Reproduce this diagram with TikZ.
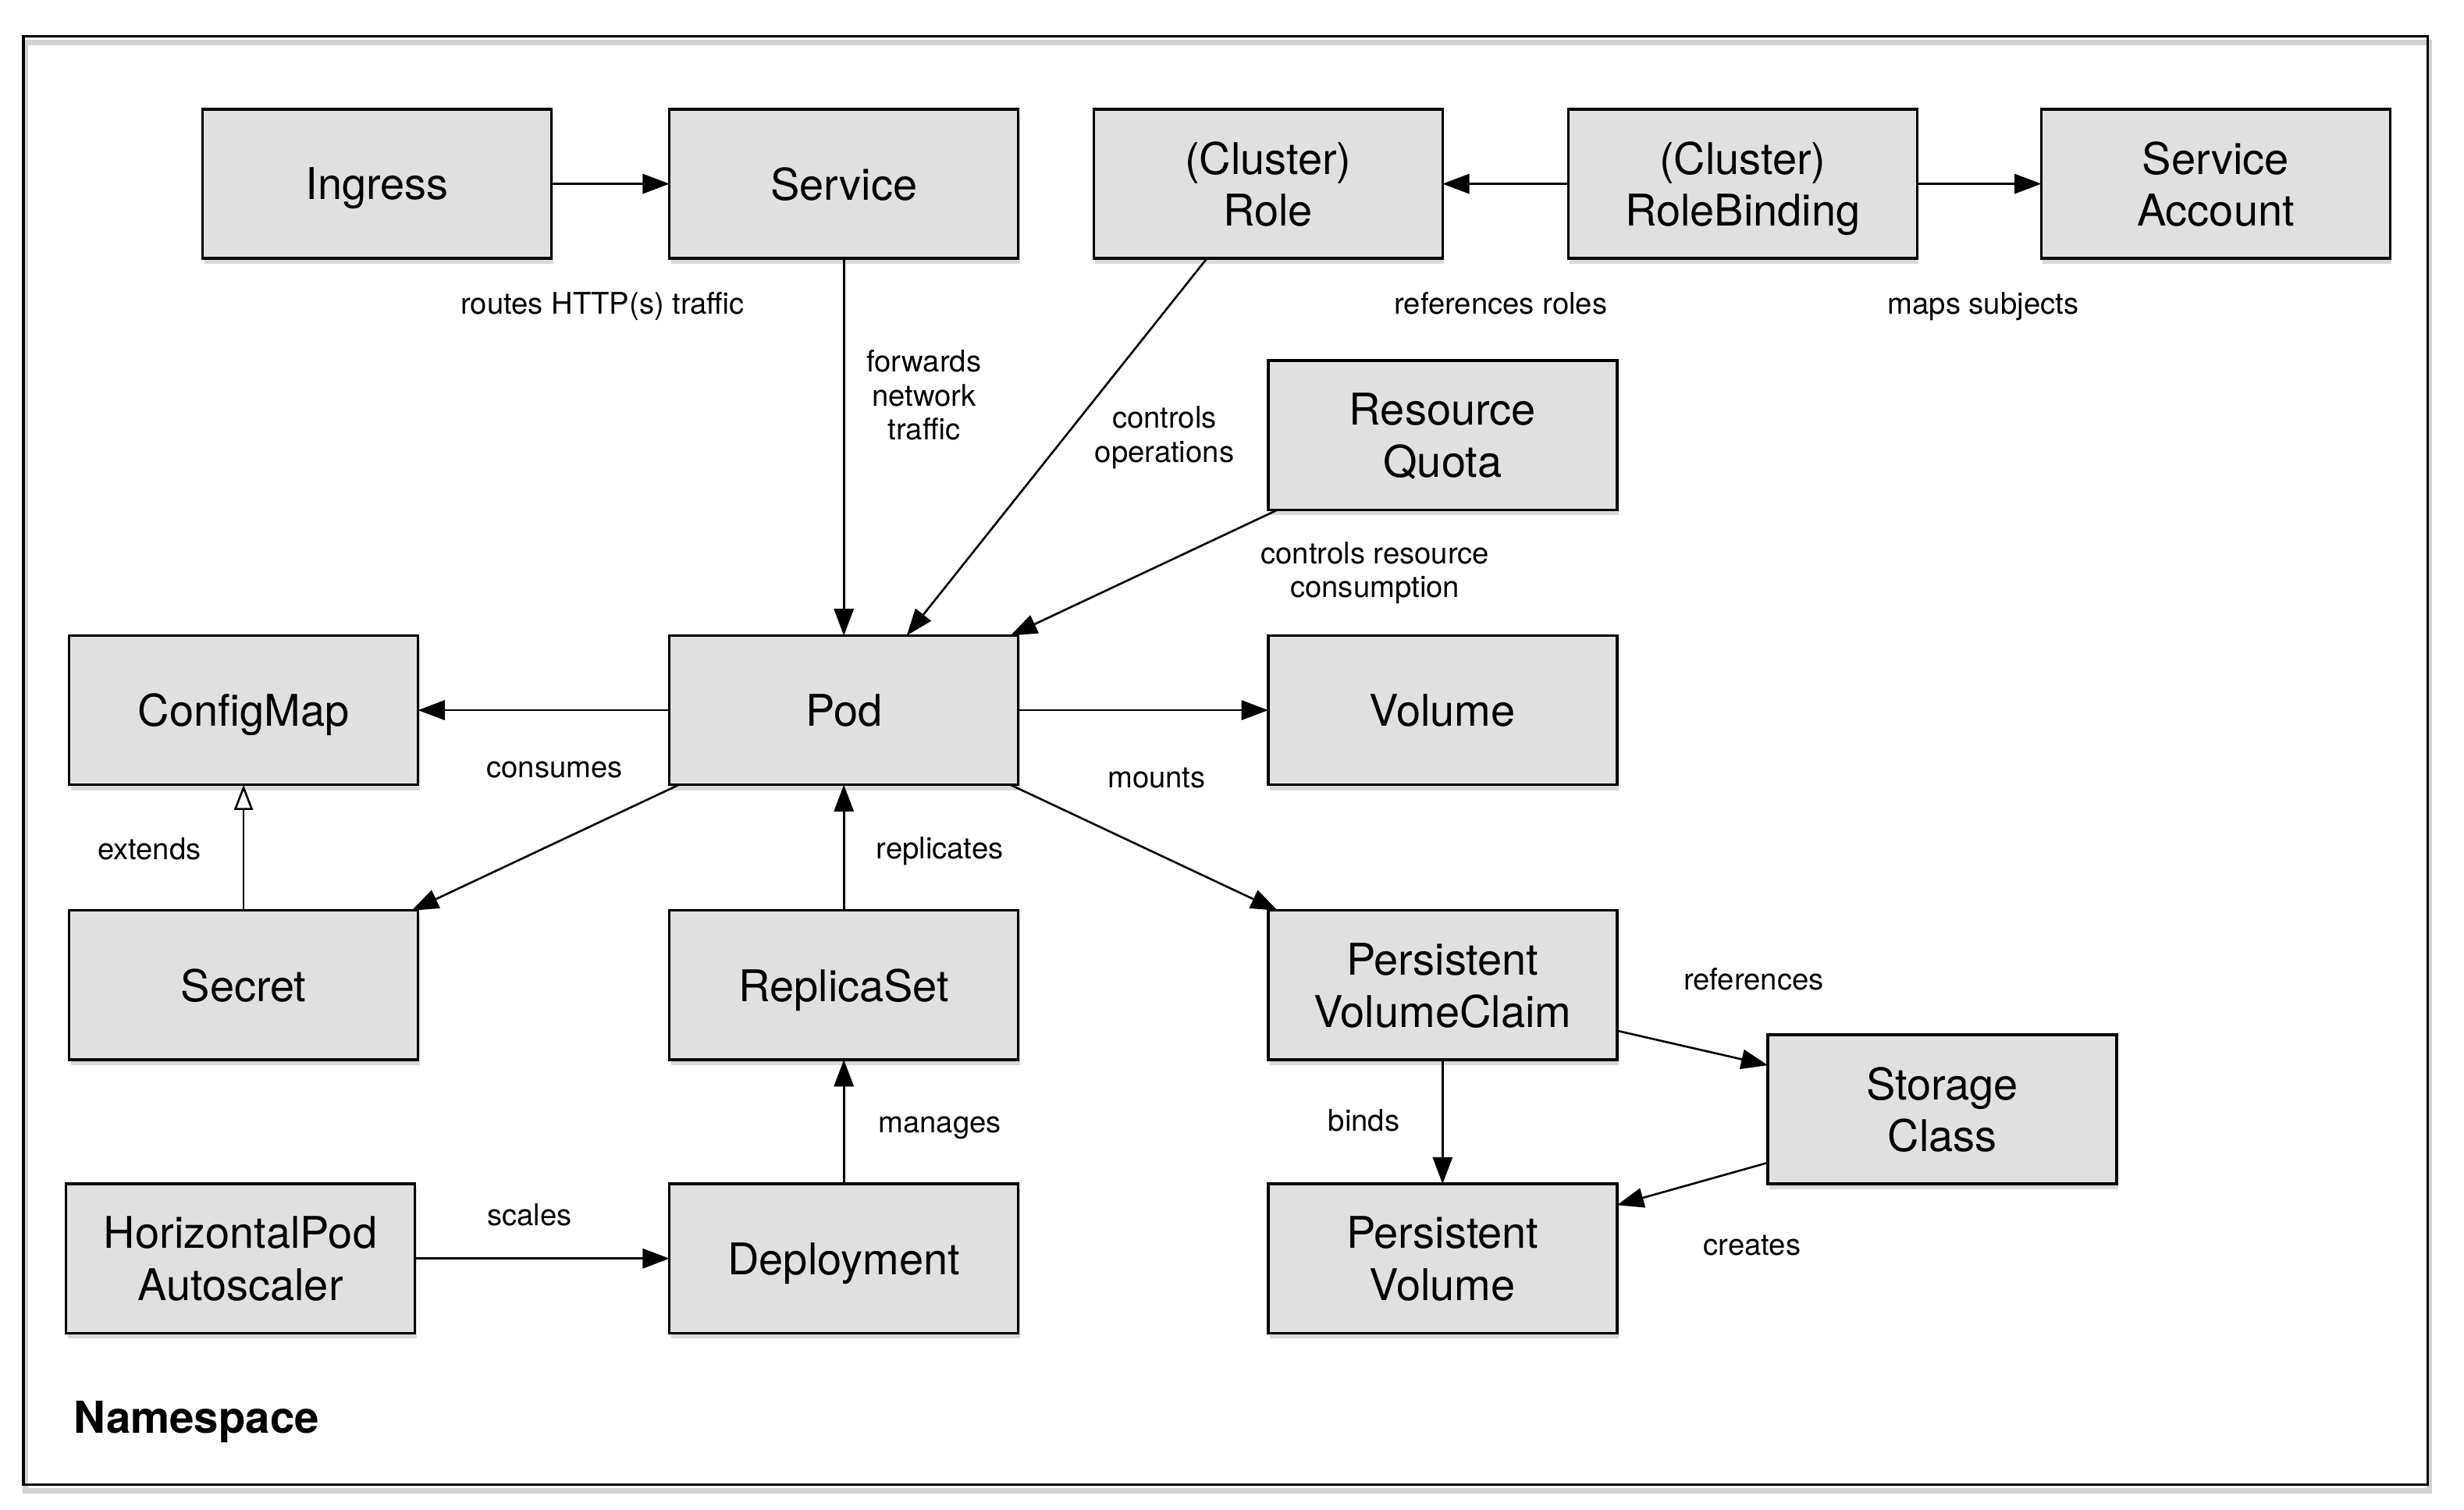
\documentclass[tikz,border=0pt]{standalone}
\usepackage{fontspec}
\setmainfont{TeX Gyre Heros}
\usetikzlibrary{positioning,arrows.meta,shadows}

\definecolor{resgray}{RGB}{224,224,224}

\tikzset{
    res/.style={draw, line width=1.7pt, fill=resgray, minimum width=222pt, minimum height=95pt, inner sep=2pt, outer sep=0pt,
        text depth=0pt, align=center, font=\fontsize{27.8}{33}\selectfont,
        drop shadow={shadow xshift=1pt, shadow yshift=-3.5pt, opacity=0.3}},
    rel/.style={line width=1.3pt, -{Triangle[length=17pt, width=12.5pt]}},
    ext/.style={line width=1.3pt, -{Triangle[length=16pt, width=12pt, open, fill=white]}},
    lbl/.style={align=center, font=\fontsize{19}{21.5}\selectfont}
}

\begin{document}
\begin{tikzpicture}[x=1pt, y=1pt]
    \useasboundingbox (0,0) rectangle (1568,-960.6);
    \draw[gray!35, line width=3.5pt] (16,-27) rectangle (1546,-949);
    \draw[line width=1.7pt] (15,-23) rectangle (1545,-945);

    \node [res] (pod) at (537,-452) {Pod};
    \node [res, above=240pt of pod] (service) {Service};
    \node [res, left=75pt of service] (ingress) {Ingress};
    \node [res, right=48pt of service] (role) {(Cluster)\\Role};
    \node [res, right=80pt of role] (role_binding) {(Cluster)\\RoleBinding};
    \node [res, right=79pt of role_binding] (service_account) {Service\\Account};

    \node [res, left=160pt of pod] (config_map) {ConfigMap};
    \node [res, right=159pt of pod] (volume) {Volume};
    \node [res, above=80pt of volume] (resource_quota) {Resource\\Quota};

    \node [res, below=80pt of config_map] (secret) {Secret};
    \node [res, below=80pt of pod] (replica_set) {ReplicaSet};
    \node [res, below=80pt of volume] (pv_claim) {Persistent\\VolumeClaim};
    \node [res, right=96pt of pv_claim, yshift=-79pt] (storage_class) {Storage\\Class};

    \node [res, below=79pt of replica_set] (deployment) {Deployment};
    \node [res, left=162pt of deployment] (autoscaler) {HorizontalPod\\Autoscaler};
    \node [res, below=79pt of pv_claim] (persistent_volume) {Persistent\\Volume};

    \node [font=\fontsize{28}{34}\selectfont\bfseries] (namespace) at (125,-905) {Namespace};

    \draw[rel] (ingress) -- node[lbl, xshift=-5pt, yshift=-78pt] (routes_label) {routes HTTP(s) traffic} (service);
    \draw[rel] (service) -- node[lbl, xshift=51pt, yshift=33pt] (forwards_label) {forwards\\network\\traffic} (pod);
    \draw[rel] ([xshift=-39pt]role.south) -- node[lbl, xshift=68.5pt, yshift=6pt] (operations_label) {controls\\operations} ([xshift=40pt]pod.north);
    \draw[rel] (role_binding) -- node[lbl, xshift=-3pt, yshift=-76pt] (roles_label) {references roles} (role);
    \draw[rel] (role_binding) -- node[lbl, xshift=2.5pt, yshift=-78pt] (subjects_label) {maps subjects} (service_account);
    \draw[rel] ([xshift=6pt]resource_quota.south west) -- node[lbl, xshift=147pt, yshift=0pt] (consumption_label) {controls resource\\consumption} ([xshift=-5pt]pod.north east);

    \draw[rel] (pod) -- node[lbl, xshift=7pt, yshift=-38pt] (consumes_label) {consumes} (config_map);
    \draw[rel] (pod) -- node[lbl, xshift=8.5pt, yshift=-43pt] (mounts_label) {mounts} (volume);
    \draw[rel] ([xshift=6pt]pod.south west) -- ([xshift=-4pt]secret.north east);
    \draw[rel] ([xshift=-5pt]pod.south east) -- ([xshift=6pt]pv_claim.north west);
    \draw[ext] (secret) -- node[lbl, xshift=-60pt, yshift=-1pt] (extends_label) {extends} (config_map);
    \draw[rel] (replica_set) -- node[lbl, xshift=61pt, yshift=-2pt] (replicates_label) {replicates} (pod);

    \draw[rel] (deployment) -- node[lbl, xshift=61pt, yshift=-4pt] (manages_label) {manages} (replica_set);
    \draw[rel] (autoscaler) -- node[lbl, xshift=-8pt, yshift=28pt] (scales_label) {scales} (deployment);
    \draw[rel] (pv_claim) -- node[lbl, xshift=-50pt, yshift=1pt] (binds_label) {binds} (persistent_volume);
    \draw[rel] ([yshift=-29pt]pv_claim.east) -- node[lbl, xshift=39pt, yshift=44pt] (references_label) {references} ([yshift=28pt]storage_class.west);
    \draw[rel] ([yshift=-34pt]storage_class.west) -- node[lbl, xshift=38pt, yshift=-39pt] (creates_label) {creates} ([yshift=34pt]persistent_volume.east);
\end{tikzpicture}
\end{document}
